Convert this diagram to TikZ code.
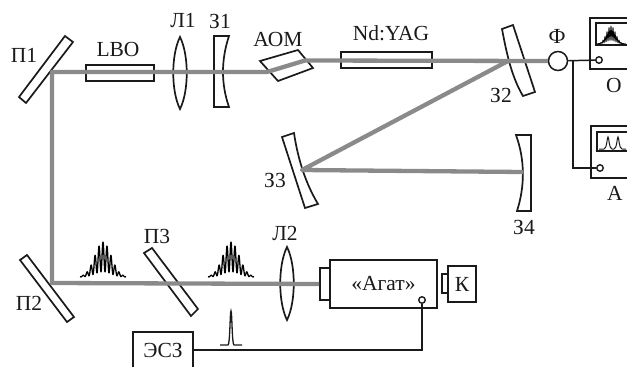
\documentclass[tikz,border=0pt]{standalone}
\usepackage{fontspec}
\setmainfont{Liberation Serif}
\definecolor{beamgray}{HTML}{8A8A8A}
\definecolor{inkblack}{HTML}{1A1A1A}
\tikzset{
  optic/.style={draw=inkblack,line width=1.7pt,fill=white,line join=miter},
  beam/.style={draw=beamgray,line width=4.3pt,line join=round},
  wire/.style={draw=inkblack,line width=1.5pt},
  lbl/.style={inner sep=0pt,text=inkblack,font=\fontsize{21.5}{21.5}\selectfont},
  term/.style={circle,draw=inkblack,line width=1.4pt,fill=white,inner sep=0pt,minimum size=6.5pt},
  fringe/.style={draw=black,line width=1.3pt,line join=round}
}
\newcommand{\fringepulse}[3]{% centre x, baseline y, half width
  \draw[fringe] plot[domain=-#3:#3,samples=181,variable=\t]
    ({#1+\t},{#2-35*exp(-(\t/11.5)^2)*(0.15+0.85*(cos(\t*45))^2)});
}
\begin{document}
\begin{tikzpicture}[x=1pt,y=-1pt]
  \useasboundingbox (0,0) rectangle (627,367);
  % plates
  \draw[optic] (65,36) -- (73,42) -- (26,103) -- (19,97) -- cycle;
  \draw[optic] (20,260) -- (27,255) -- (74,317) -- (67,322) -- cycle;
  \draw[optic] (144,253) -- (152,248) -- (198,309) -- (191,316) -- cycle;
  % lenses
  \draw[optic] (180,37) .. controls (171,55) and (171,91) .. (180,109) .. controls (189,91) and (189,55) .. cycle;
  \draw[optic] (287,247) .. controls (278,265) and (278,302) .. (287,320) .. controls (296,302) and (296,265) .. cycle;
  % mirrors
  \draw[optic] (214,36) -- (229,36) .. controls (221,60) and (221,84) .. (229,107) -- (214,107) -- cycle;
  \draw[optic] (513,25) -- (535,92) -- (523,96) .. controls (511,76) and (506,50) .. (502,29) -- cycle;
  \draw[optic] (282,137) -- (294,133) .. controls (298,160) and (306,184) .. (318,204) -- (305,208) -- cycle;
  \draw[optic] (516,135) -- (531,135) -- (531,211) -- (517,211) .. controls (525,186) and (525,160) .. cycle;
  % crystals
  \draw[optic] (260,61) -- (298,50) -- (313,68) -- (278,81) -- cycle;
  \node[optic,inner sep=0pt,minimum width=68pt,minimum height=16pt] (lbo) at (120,73) {};
  \node[optic,inner sep=0pt,minimum width=91pt,minimum height=16pt] (yag) at (386.5,60) {};
  % recorder
  \node[optic,inner sep=0pt,minimum width=107pt,minimum height=48pt,font=\fontsize{21.5}{21.5}\selectfont,text=inkblack] (agat) at (383.5,284) {«Агат»};
  \node[optic,inner sep=0pt,minimum width=10pt,minimum height=32pt] (input) at (325,284) {};
  \node[optic,inner sep=0pt,minimum width=6pt,minimum height=19pt] (camlens) at (445,283.5) {};
  \node[optic,inner sep=0pt,minimum width=28pt,minimum height=36pt,font=\fontsize{21.5}{21.5}\selectfont,text=inkblack] (cam) at (462,284) {К};
  % beam
  \coordinate (turn1) at (52,72);
  \coordinate (turn2) at (52,283);
  \coordinate (aomin) at (267,72);
  \coordinate (aomout) at (305,60.5);
  \coordinate (m2) at (508,61);
  \coordinate (m3) at (302,170);
  \coordinate (m4) at (523,172);
  \node[circle,draw=inkblack,line width=1.5pt,fill=white,inner sep=0pt,minimum size=19pt] (phd) at (558,61) {};
  \draw[beam] (input.west) -- (turn2) -- (turn1) -- (aomin) -- (aomout) -- (phd.west);
  \draw[beam] (m2) -- (m3) -- (m4);
  % scopes
  \draw[optic,fill=none,line width=1.9pt] (627,18) -- (590,18) -- (590,69) -- (627,69);
  \draw[optic,fill=none,line width=1.1pt] (627,23) -- (596,23) -- (596,45) -- (627,45);
  \draw[optic,fill=none,line width=1.9pt] (627,126) -- (591,126) -- (591,178) -- (627,178);
  \draw[optic,fill=none,line width=1.1pt] (627,132) -- (597,132) -- (597,151) -- (627,151);
  \draw[fringe,line width=0.8pt] plot[domain=-15:15,samples=121,variable=\t]
    ({611+\t},{44-18*exp(-(\t/6.5)^2)*(0.2+0.8*(cos(\t*90))^2)});
  \draw[wire,line width=1pt] (599,149) -- (604,149) .. controls (607,149) and (607,137) .. (608,137)
    .. controls (609,137) and (609,149) .. (612,149) -- (614,149) .. controls (617,149) and (617,137) .. (618,137)
    .. controls (619,137) and (619,149) .. (622,149) -- (626,149);
  % wires
  \node[term] (termo) at (599,60) {};
  \node[term] (terma) at (600,168) {};
  \node[term] (termagat) at (422,300) {};
  \coordinate (branch) at (573,60);
  \draw[wire] (phd) -- (termo);
  \draw[wire] (branch) |- (terma);
  \node[lbl,minimum width=60pt,minimum height=36pt] (esz) at (163,350) {ЭСЗ};
  \draw[optic,fill=none] (esz.south west) -- (esz.north west) -- (esz.north east) -- (esz.south east);
  \draw[wire] (esz.east) -| (termagat);
  % pulses
  \fringepulse{103}{277}{23}
  \fringepulse{231}{277}{23}
  \draw[wire,line width=1.3pt] (220,345) -- (228,345) .. controls (230,345) and (230,311) .. (231,311)
    .. controls (232,311) and (232,345) .. (234,345) -- (242,345);
  % labels
  \node[lbl] (p1) at (24,55) {П1};
  \node[lbl] (lbotxt) at (118,49) {LBO};
  \node[lbl] (l1) at (183,21) {Л1};
  \node[lbl] (z1) at (220,21) {З1};
  \node[lbl] (aom) at (278,39) {АОМ};
  \node[lbl] (yagtxt) at (391,33) {Nd:YAG};
  \node[lbl] (phi) at (557,36) {Ф};
  \node[lbl] (z2) at (501,95) {З2};
  \node[lbl] (z3) at (275,180) {З3};
  \node[lbl] (z4) at (524,227) {З4};
  \node[lbl] (l2) at (285,233) {Л2};
  \node[lbl] (p3) at (157,236) {П3};
  \node[lbl] (p2) at (29,303) {П2};
  \node[lbl] (scopeo) at (614,85) {О};
  \node[lbl] (scopea) at (615,193) {А};
\end{tikzpicture}
\end{document}
